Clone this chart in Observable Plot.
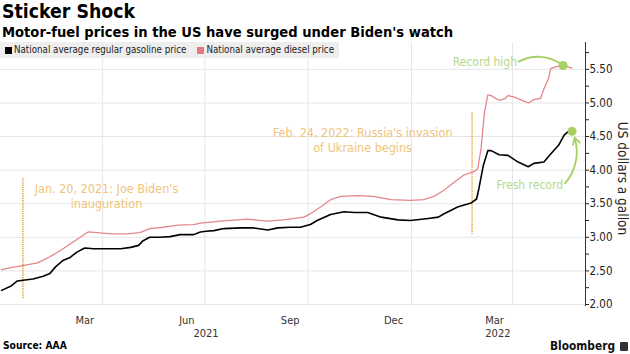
<!DOCTYPE html>
<html><head><meta charset="utf-8">
<script src="https://cdn.jsdelivr.net/npm/d3@7"></script>
<script src="https://cdn.jsdelivr.net/npm/@observablehq/plot@0.6"></script>
<style>
body{margin:0;background:#fff;font-family:"DejaVu Sans Condensed","DejaVu Sans",sans-serif;}
#wrap{position:relative;width:630px;height:354px;overflow:hidden;background:#fff;}
#title{position:absolute;left:2px;top:1px;font-weight:bold;font-size:19.3px;line-height:22px;color:#000;white-space:nowrap;}
#subtitle{position:absolute;left:2px;top:23px;font-weight:bold;font-size:14.6px;line-height:17px;color:#000;white-space:nowrap;}
#chart{position:absolute;left:0;top:40px;}
#legend{position:absolute;left:0;top:42px;width:339px;height:16px;background:#eeeeee;font-size:9.7px;line-height:16px;color:#222;white-space:nowrap;}
#legend .sw{display:inline-block;width:7px;height:7px;margin:0 2px 0 5px;vertical-align:-0.5px;}
#source{position:absolute;left:3px;top:340px;font-weight:bold;font-size:10.2px;line-height:12px;color:#000;}
#brand{position:absolute;right:2px;top:339px;font-weight:bold;font-size:11.8px;line-height:14px;color:#111;white-space:nowrap;}
#brand .ic{display:inline-block;width:8px;height:9px;background:#333;border-radius:1px;margin-left:5px;vertical-align:-1px;}
</style></head>
<body>
<div id="wrap">
  <div id="title">Sticker Shock</div>
  <div id="subtitle">Motor-fuel prices in the US have surged under Biden's watch</div>
  <div id="chart"></div>
  <div id="legend"><span class="sw" style="background:#000"></span>National average regular gasoline price<span class="sw" style="background:#e8777e;margin-left:11px"></span>National average diesel price</div>
  <div id="source">Source: AAA</div>
  <div id="brand">Bloomberg<span class="ic"></span></div>
</div>
<script>
const gasDates = ["2021-01-01","2021-01-09","2021-01-15","2021-01-20","2021-01-29","2021-02-07","2021-02-13","2021-02-18","2021-02-25","2021-03-03","2021-03-09","2021-03-16","2021-03-24","2021-04-08","2021-04-17","2021-04-26","2021-05-03","2021-05-07","2021-05-13","2021-05-22","2021-05-31","2021-06-09","2021-06-21","2021-06-27","2021-07-02","2021-07-09","2021-07-18","2021-08-02","2021-08-13","2021-08-26","2021-09-04","2021-09-15","2021-09-24","2021-10-03","2021-10-09","2021-10-21","2021-11-02","2021-11-11","2021-11-23","2021-12-05","2021-12-20","2021-12-31","2022-01-16","2022-01-25","2022-01-30","2022-02-05","2022-02-11","2022-02-17","2022-02-23","2022-02-28","2022-03-02","2022-03-06","2022-03-10","2022-03-13","2022-03-20","2022-03-28","2022-04-06","2022-04-15","2022-04-20","2022-04-29","2022-05-05","2022-05-12","2022-05-17","2022-05-21","2022-05-24"];
const gasPrices = [2.21,2.27,2.35,2.36,2.38,2.42,2.46,2.56,2.66,2.70,2.78,2.84,2.83,2.83,2.83,2.85,2.88,2.95,3.00,3.00,3.01,3.04,3.04,3.08,3.09,3.10,3.13,3.14,3.14,3.11,3.14,3.15,3.15,3.19,3.25,3.34,3.38,3.37,3.37,3.30,3.26,3.25,3.28,3.30,3.35,3.40,3.45,3.48,3.51,3.57,3.72,4.07,4.29,4.29,4.23,4.22,4.12,4.05,4.10,4.12,4.24,4.37,4.52,4.58,4.59];
const dieselDates = ["2021-01-01","2021-01-09","2021-01-20","2021-02-02","2021-02-07","2021-02-13","2021-02-22","2021-03-03","2021-03-12","2021-03-19","2021-03-27","2021-04-08","2021-04-23","2021-05-04","2021-05-13","2021-05-25","2021-06-07","2021-06-21","2021-06-27","2021-07-15","2021-08-08","2021-08-26","2021-09-09","2021-09-27","2021-10-03","2021-10-12","2021-10-21","2021-10-30","2021-11-14","2021-11-28","2021-12-14","2021-12-31","2022-01-12","2022-01-21","2022-01-30","2022-02-08","2022-02-17","2022-02-26","2022-03-01","2022-03-04","2022-03-07","2022-03-10","2022-03-13","2022-03-20","2022-03-25","2022-03-28","2022-04-02","2022-04-15","2022-04-20","2022-04-26","2022-04-29","2022-05-03","2022-05-05","2022-05-10","2022-05-16","2022-05-24"];
const dieselPrices = [2.52,2.55,2.58,2.62,2.66,2.71,2.80,2.90,3.00,3.08,3.07,3.05,3.05,3.07,3.13,3.15,3.18,3.19,3.21,3.24,3.27,3.24,3.26,3.30,3.35,3.45,3.56,3.61,3.62,3.61,3.56,3.55,3.56,3.61,3.70,3.82,3.93,3.98,4.02,4.32,4.86,5.12,5.11,5.04,5.06,5.11,5.09,5.00,5.05,5.07,5.21,5.36,5.51,5.54,5.56,5.52];

const yTicks = [2, 2.5, 3, 3.5, 4, 4.5, 5, 5.5];
const yMinorTicks = [2.25, 2.75, 3.25, 3.75, 4.25, 4.75, 5.25, 5.75];
const gridDates = ["2021-04-01","2021-07-01","2021-10-01","2022-01-01","2022-04-01"];
const monthLabels = ["Mar","Jun","Sep","Dec","Mar"];
const monthLabelDates = ["2021-03-16","2021-06-15","2021-09-15","2021-12-16","2022-03-16"];
const yearLabels = ["2021","2022"];
const yearLabelDates = ["2021-07-02","2022-03-19"];

const eventDates = ["2021-01-20","2022-02-24"];
const eventLabels = ["Jan. 20, 2021: Joe Biden's\ninauguration","Feb. 24, 2022: Russia's invasion\nof Ukraine begins"];
const eventTops = [3.89, 4.86];
const eventBottoms = [2.09, 3.04];

const recordDates = ["2022-05-16","2022-05-24"];
const recordValues = [5.557, 4.579];
const noteLabels = ["Record high","Fresh record"];
const noteDates = ["2022-04-05","2022-05-16"];
const noteValues = [5.60, 3.77];

const P = s => new Date(s);
const gas = gasDates.map((d, i) => ({date: P(d), value: gasPrices[i]}));
const diesel = dieselDates.map((d, i) => ({date: P(d), value: dieselPrices[i]}));
const events = eventDates.map((d, i) => ({date: P(d), label: eventLabels[i], top: eventTops[i], bottom: eventBottoms[i]}));
const notes = noteLabels.map((l, i) => ({label: l, date: P(noteDates[i]), value: noteValues[i], tdate: P(recordDates[i]), tvalue: recordValues[i]}));
const records = recordDates.map((d, i) => ({date: P(d), value: recordValues[i]}));
const months = monthLabels.map((l, i) => ({date: P(monthLabelDates[i]), label: l}));
const years = yearLabels.map((l, i) => ({date: P(yearLabelDates[i]), label: l}));

const GREEN = "#a6d162", GREEN_TXT = "#b3d98a", GOLD_TXT = "#f0c47a", GOLD = "#f2ad4c";
const xEnd = P("2022-06-05");

const chart = Plot.plot({
  width: 630, height: 300,
  marginLeft: 0, marginRight: 45, marginTop: 2, marginBottom: 34,
  style: {fontFamily: '"DejaVu Sans Condensed","DejaVu Sans",sans-serif', fontSize: "11.5px", color: "#222", background: "transparent", overflow: "visible"},
  x: {type: "utc", domain: [P("2020-12-31"), xEnd], axis: null},
  y: {domain: [1.97, 5.90], axis: null},
  marks: [
    Plot.ruleY(yTicks, {stroke: "#e6e6e6", strokeWidth: 1}),
    Plot.ruleX(gridDates.map(P), {stroke: "#e6e6e6", strokeWidth: 1}),
    Plot.ruleX(events, {x: "date", y1: "bottom", y2: "top", stroke: GOLD, strokeWidth: 1.8, strokeDasharray: "1.2,1"}),
    Plot.text(events.slice(0, 1), {x: "date", y: "top", text: "label", dx: 83.5, dy: 18.5, fill: GOLD_TXT, fontSize: 12.5, lineHeight: 1.2, textAnchor: "middle", lineAnchor: "middle"}),
    Plot.text(events.slice(1), {x: "date", y: "top", text: "label", dx: -109.5, dy: 27.5, fill: GOLD_TXT, fontSize: 12.5, lineHeight: 1.2, textAnchor: "middle", lineAnchor: "middle"}),
    Plot.lineY(diesel, {x: "date", y: "value", stroke: "#e3878b", strokeWidth: 1.3}),
    Plot.lineY(gas, {x: "date", y: "value", stroke: "#000", strokeWidth: 1.6}),
    Plot.ruleX([xEnd], {stroke: "#333", strokeWidth: 1}),
    Plot.axisY({anchor: "right", ticks: yTicks, tickFormat: d3.format(".2f"), tickSize: 3, tickPadding: 1, label: null, fontSize: 11.5, color: "#222"}),
    Plot.axisY({anchor: "right", ticks: yMinorTicks, tickFormat: () => "", tickSize: 3, label: null, color: "#222"}),
    Plot.text(months, {x: "date", text: "label", frameAnchor: "bottom", lineAnchor: "middle", textAnchor: "middle", dy: 14, fontSize: 11, fill: "#333"}),
    Plot.text(years, {x: "date", text: "label", frameAnchor: "bottom", lineAnchor: "middle", textAnchor: "middle", dy: 26.5, fontSize: 11, fill: "#333"}),
    Plot.text(["US dollars a gallon"], {frameAnchor: "right", textAnchor: "middle", lineAnchor: "middle", rotate: 90, dx: 37, dy: 4, fontSize: 13.5, fill: "#222"}),
    Plot.arrow(notes.slice(0, 1), {x1: "date", y1: "value", x2: "tdate", y2: "tvalue", bend: 35, headLength: 0, insetStart: 2, insetEnd: 2, stroke: GREEN, strokeWidth: 1.8}),
    Plot.arrow(notes.slice(1), {x1: "date", y1: "value", x2: "tdate", y2: "tvalue", bend: -35, headLength: 6, insetStart: 3, insetEnd: 7, stroke: GREEN, strokeWidth: 1.8}),
    Plot.dot(records, {x: "date", y: "value", r: 4.5, fill: GREEN}),
    Plot.text(notes, {x: "date", y: "value", text: "label", textAnchor: "end", fill: GREEN_TXT, fontSize: 12})
  ]
});
document.getElementById("chart").appendChild(chart);
</script>
</body></html>
